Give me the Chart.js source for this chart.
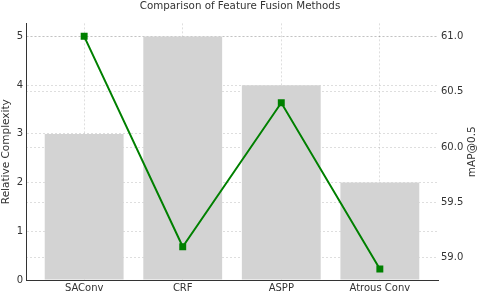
<!DOCTYPE html>
<html>
<head>
<meta charset="utf-8">
<script src="https://cdn.jsdelivr.net/npm/chart.js@4/dist/chart.umd.min.js"></script>
<style>
  html, body { margin: 0; padding: 0; background: #fff; }
  #wrap { width: 480px; height: 294px; }
</style>
</head>
<body>
<div id="wrap"><canvas id="chart"></canvas></div>
<script>
// data
const methods = ['SAConv', 'CRF', 'ASPP', 'Atrous Conv'];
const complexity = [3, 5, 4, 2];
const mapScores = [61.0, 59.1, 60.4, 58.9];
const complexityTicks = [0, 1, 2, 3, 4, 5];
const mapTicks = [59.0, 59.5, 60.0, 60.5, 61.0];

const textColor = '#333';
const gridColor = 'rgba(0,0,0,0.13)';
Chart.defaults.font.family = "'DejaVu Sans', sans-serif";
Chart.defaults.font.size = 10;
Chart.defaults.color = textColor;

// right axis title reads bottom-to-top like matplotlib's twinx label
const rightTitle = {
  id: 'rightTitle',
  afterDraw(chart) {
    const { ctx, chartArea } = chart;
    ctx.save();
    ctx.translate(472, (chartArea.top + chartArea.bottom) / 2);
    ctx.rotate(-Math.PI / 2);
    ctx.fillStyle = textColor;
    ctx.font = "10.5px 'DejaVu Sans'";
    ctx.textAlign = 'center';
    ctx.textBaseline = 'middle';
    ctx.fillText('mAP@0.5', 0, 0);
    ctx.restore();
  }
};

new Chart(document.getElementById('chart'), {
  data: {
    datasets: [
      {
        type: 'line',
        label: 'mAP@0.5',
        data: methods.map((m, i) => ({ x: i, y: mapScores[i] })),
        yAxisID: 'y2',
        borderColor: '#008000',
        backgroundColor: '#008000',
        borderWidth: 2,
        pointStyle: 'rect',
        pointRadius: 3.5,
        tension: 0,
        order: 0,
      },
      {
        type: 'bar',
        label: 'Relative Complexity',
        data: methods.map((m, i) => ({ x: i, y: complexity[i] })),
        yAxisID: 'y',
        backgroundColor: '#d3d3d3',
        categoryPercentage: 1,
        barPercentage: 0.8,
        order: 1,
      }
    ]
  },
  options: {
    responsive: true,
    maintainAspectRatio: false,
    animation: false,
    layout: { padding: 0 },
    plugins: {
      legend: { display: false },
      tooltip: { enabled: false },
      title: {
        display: true,
        text: 'Comparison of Feature Fusion Methods',
        color: textColor,
        font: { size: 10.3, weight: 'normal' },
        padding: { top: 0, bottom: 11 },
      }
    },
    scales: {
      x: {
        type: 'linear',
        min: -0.59,
        max: 3.59,
        offset: false,
        z: 1,
        afterBuildTicks: (s) => { s.ticks = methods.map((m, i) => ({ value: i })); },
        afterFit: (s) => { s.height = 14; },
        ticks: { callback: (v) => methods[v], padding: 2, maxRotation: 0, autoSkip: false },
        grid: { color: gridColor, drawTicks: false, offset: false },
        border: { display: true, color: '#333', width: 1, dash: [2, 2] },
      },
      y: {
        position: 'left',
        min: 0,
        max: 5.27,
        z: 1,
        afterBuildTicks: (s) => { s.ticks = complexityTicks.map(v => ({ value: v })); },
        afterFit: (s) => { s.width = 26; },
        ticks: { padding: 3 },
        grid: { color: gridColor, drawTicks: false },
        border: { display: true, color: '#333', width: 1, dash: [2, 2] },
        title: { display: true, text: 'Relative Complexity', padding: 0, font: { size: 10.5 } },
      },
      y2: {
        position: 'right',
        min: 58.8,
        max: 61.117,
        z: 1,
        afterBuildTicks: (s) => { s.ticks = mapTicks.map(v => ({ value: v })); },
        afterFit: (s) => { s.width = 42; },
        ticks: { padding: 3, callback: (v) => v.toFixed(1) },
        grid: { color: gridColor, drawTicks: false },
        border: { display: false, dash: [2, 2] },
      }
    }
  },
  plugins: [rightTitle]
});
</script>
</body>
</html>
